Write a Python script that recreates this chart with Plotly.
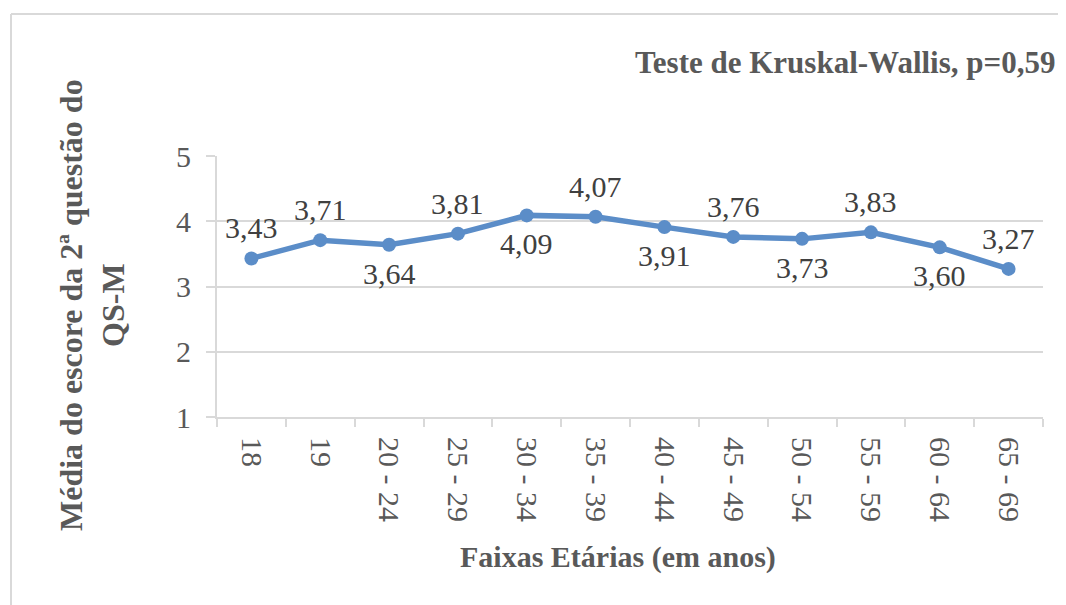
import plotly.graph_objects as go

categories = ["18", "19", "20 - 24", "25 - 29", "30 - 34", "35 - 39",
              "40 - 44", "45 - 49", "50 - 54", "55 - 59", "60 - 64", "65 - 69"]
values = [3.43, 3.71, 3.64, 3.81, 4.09, 4.07, 3.91, 3.76, 3.73, 3.83, 3.60, 3.27]
label_above = [True, True, False, True, False, True, False, True, False, True, False, True]
y_ticks = [1, 2, 3, 4, 5]

title_text = "Teste de Kruskal-Wallis, p=0,59"
x_title = "Faixas Etárias (em anos)"
y_title = "Média do escore da 2ª questão do<br>QS-M"

FONT = "Liberation Serif"
GRAY = "#595959"
GRID = "#d9d9d9"
BLUE = "#5B8DC8"

# page body has an 8px margin; compensate
OFF = 8
W, H = 1066, 605
L, R, T, B = 217 - OFF, 1043 - OFF, 156 - OFF, 417 - OFF


def px_x(p):
    return (p - OFF - L) / (R - L)


def px_y(p):
    return (B - (p - OFF)) / (B - T)


fig = go.Figure()
fig.add_trace(go.Scatter(
    x=categories, y=values,
    mode="lines+markers",
    line=dict(color=BLUE, width=5.5),
    marker=dict(color=BLUE, size=14),
    cliponaxis=False,
    hoverinfo="skip",
))

label_annotations = []
for i, (v, up) in enumerate(zip(values, label_above)):
    label_annotations.append(dict(
        x=i, y=v, xref="x", yref="y",
        text=f"{v:.2f}".replace(".", ","),
        showarrow=False,
        xanchor="center",
        yanchor="bottom" if up else "top",
        yshift=12 if up else -10,
        font=dict(family=FONT, size=30, color="#404040"),
    ))

fig.update_layout(
    width=W, height=H,
    margin=dict(l=L, r=W - R, t=T, b=H - B, pad=0),
    paper_bgcolor="white", plot_bgcolor="white",
    showlegend=False,
    font=dict(family=FONT, color=GRAY),
    xaxis=dict(
        type="category",
        categoryorder="array", categoryarray=categories,
        range=[-0.5, len(categories) - 0.5],
        tickson="boundaries",
        ticks="outside", ticklen=8, tickwidth=2, tickcolor=GRID,
        showgrid=False,
        showline=True, linecolor=GRID, linewidth=2,
        tickangle=90,
        tickfont=dict(family=FONT, size=30, color=GRAY),
        ticklabelstandoff=12,
        zeroline=False,
    ),
    yaxis=dict(
        range=[1, 5],
        tickvals=y_ticks,
        ticks="outside", ticklen=9, tickwidth=2, tickcolor=GRID,
        showgrid=True, gridcolor=GRID, gridwidth=2,
        showline=True, linecolor=GRID, linewidth=2,
        tickfont=dict(family=FONT, size=30, color=GRAY),
        ticklabelstandoff=9,
        zeroline=False,
    ),
    shapes=[
        dict(type="line", xref="paper", yref="paper",
             x0=px_x(11), x1=px_x(1300), y0=px_y(14), y1=px_y(14),
             line=dict(color=GRID, width=2), layer="below"),
        dict(type="line", xref="paper", yref="paper",
             x0=px_x(11), x1=px_x(11), y0=px_y(14), y1=px_y(800),
             line=dict(color=GRID, width=2), layer="below"),
    ],
    annotations=label_annotations + [
        dict(text="<b>" + title_text + "</b>", xref="paper", yref="paper",
             x=px_x(633), y=px_y(62), xanchor="left", yanchor="middle",
             showarrow=False, font=dict(family=FONT, size=31, color=GRAY)),
        dict(text="<b>" + x_title + "</b>", xref="paper", yref="paper",
             x=px_x(618), y=px_y(557), xanchor="center", yanchor="middle",
             showarrow=False, font=dict(family=FONT, size=30, color=GRAY)),
        dict(text="<b>" + y_title + "</b>", xref="paper", yref="paper",
             x=px_x(92), y=px_y(305), xanchor="center", yanchor="middle",
             textangle=-90, showarrow=False,
             font=dict(family=FONT, size=32, color=GRAY)),
    ],
)

fig.write_html("out.html")
